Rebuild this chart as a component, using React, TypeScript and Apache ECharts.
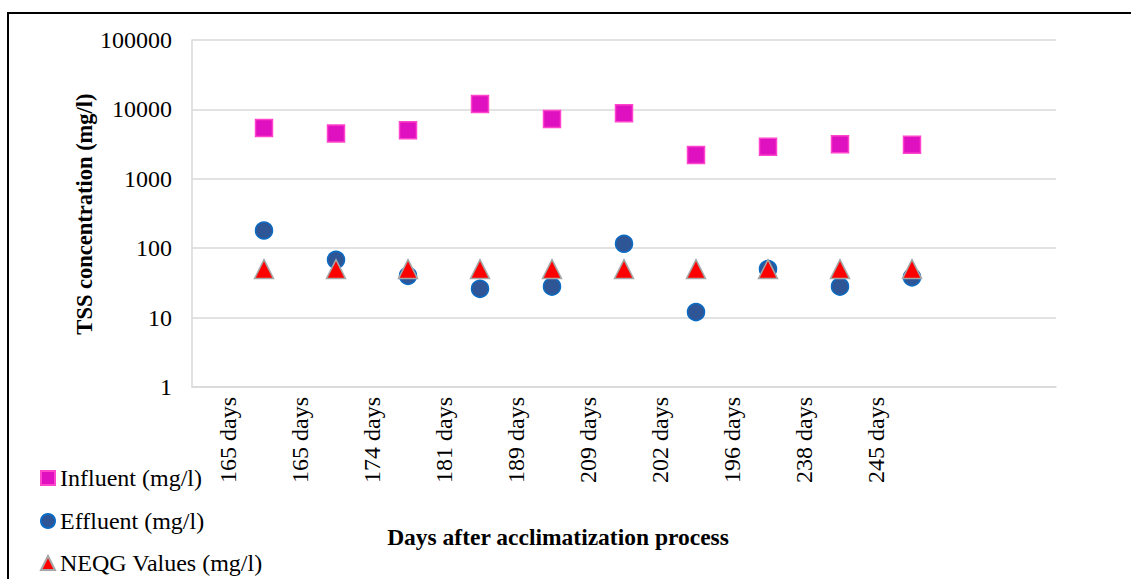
import React, { useEffect, useRef } from "react";
import * as echarts from "echarts";

const categories = ["165 days", "165 days", "174 days", "181 days", "189 days", "209 days", "202 days", "196 days", "238 days", "245 days"];
const influent = [5400, 4500, 5000, 12000, 7300, 8800, 2200, 2900, 3150, 3100];
const effluent = [180, 68, 40, 26, 28, 116, 12, 50, 28, 38];
const neqg = [50, 50, 50, 50, 50, 50, 50, 50, 50, 50];
const yTicks = [1, 10, 100, 1000, 10000, 100000];
const seriesNames = ["Influent (mg/l)", "Effluent (mg/l)", "NEQG Values (mg/l)"];

const FONT = "'Liberation Serif', 'Times New Roman', serif";

export default function App() {
  const ref = useRef<HTMLDivElement>(null);
  useEffect(() => {
    if (!ref.current) return;
    const chart = echarts.init(ref.current, null, { renderer: "svg" });
    const labelCats = [...categories, "", ""];
    const dataCats = ["", ...categories, "", ""];
    const pad = (arr: number[]) => [null, ...arr, null, null];
    const legendTops = [461, 504, 546];
    chart.setOption({
      animation: false,
      backgroundColor: "#fff",
      grid: { left: 192, right: 75, top: 40, bottom: 192, containLabel: false },
      xAxis: [
        {
          type: "category",
          data: labelCats,
          boundaryGap: true,
          axisLine: { show: true, lineStyle: { color: "#D9D9D9", width: 1.5 } },
          axisTick: { show: false },
          axisLabel: {
            rotate: 90,
            margin: 10,
            fontFamily: FONT,
            fontSize: 24,
            color: "#000",
            interval: 0,
          },
          splitLine: { show: false },
        },
        {
          type: "category",
          data: dataCats,
          boundaryGap: false,
          show: false,
          position: "bottom",
        },
      ],
      yAxis: {
        type: "log",
        logBase: 10,
        min: yTicks[0],
        max: yTicks[yTicks.length - 1],
        axisLine: { show: true, lineStyle: { color: "#D9D9D9", width: 1.5 } },
        axisTick: { show: false },
        axisLabel: {
          margin: 20,
          fontFamily: FONT,
          fontSize: 24,
          color: "#000",
          formatter: (v: number) => String(Math.round(v)),
        },
        splitLine: { show: true, lineStyle: { color: "#D9D9D9", width: 1.5 } },
      },
      legend: seriesNames.map((n, i) => ({
        orient: "vertical",
        left: 35,
        top: legendTops[i],
        itemWidth: 14,
        itemHeight: 14,
        textStyle: { fontFamily: FONT, fontSize: 24, color: "#000", lineHeight: 24 },
        data: [n],
      })),
      series: [
        {
          name: seriesNames[0],
          type: "scatter",
          xAxisIndex: 1,
          symbol: "rect",
          symbolSize: 17,
          itemStyle: { color: "#DE10BF", borderColor: "#FF45CC", borderWidth: 1.5, opacity: 1 },
          data: pad(influent),
        },
        {
          name: seriesNames[1],
          type: "scatter",
          xAxisIndex: 1,
          symbol: "circle",
          symbolSize: 17,
          itemStyle: { color: "#2E5596", borderColor: "#0B6CC4", borderWidth: 1.5, opacity: 1 },
          data: pad(effluent),
        },
        {
          name: seriesNames[2],
          type: "scatter",
          xAxisIndex: 1,
          symbol: "triangle",
          symbolSize: 19,
          itemStyle: { color: "#FF0000", borderColor: "#A6A6A6", borderWidth: 1.5, opacity: 1 },
          data: pad(neqg),
        },
      ],
      graphic: [
        {
          type: "rect",
          shape: { x: 8, y: 13, width: 1300, height: 800 },
          style: { fill: "none", stroke: "#000", lineWidth: 2 },
          silent: true,
        },
        {
          type: "text",
          x: 558,
          y: 537,
          style: {
            text: "Days after acclimatization process",
            fontFamily: FONT,
            fontSize: 23.5,
            fontWeight: "bold",
            fill: "#000",
            align: "center",
            verticalAlign: "middle",
          },
        },
        {
          type: "text",
          x: 84,
          y: 214,
          rotation: Math.PI / 2,
          style: {
            text: "TSS concentration (mg/l)",
            fontFamily: FONT,
            fontSize: 22.5,
            fontWeight: "bold",
            fill: "#000",
            align: "center",
            verticalAlign: "middle",
          },
        },
      ],
    });
    return () => chart.dispose();
  }, []);
  return (
    <div
      ref={ref}
      style={{ position: "fixed", left: 0, top: 0, width: 1131, height: 579 }}
    />
  );
}
